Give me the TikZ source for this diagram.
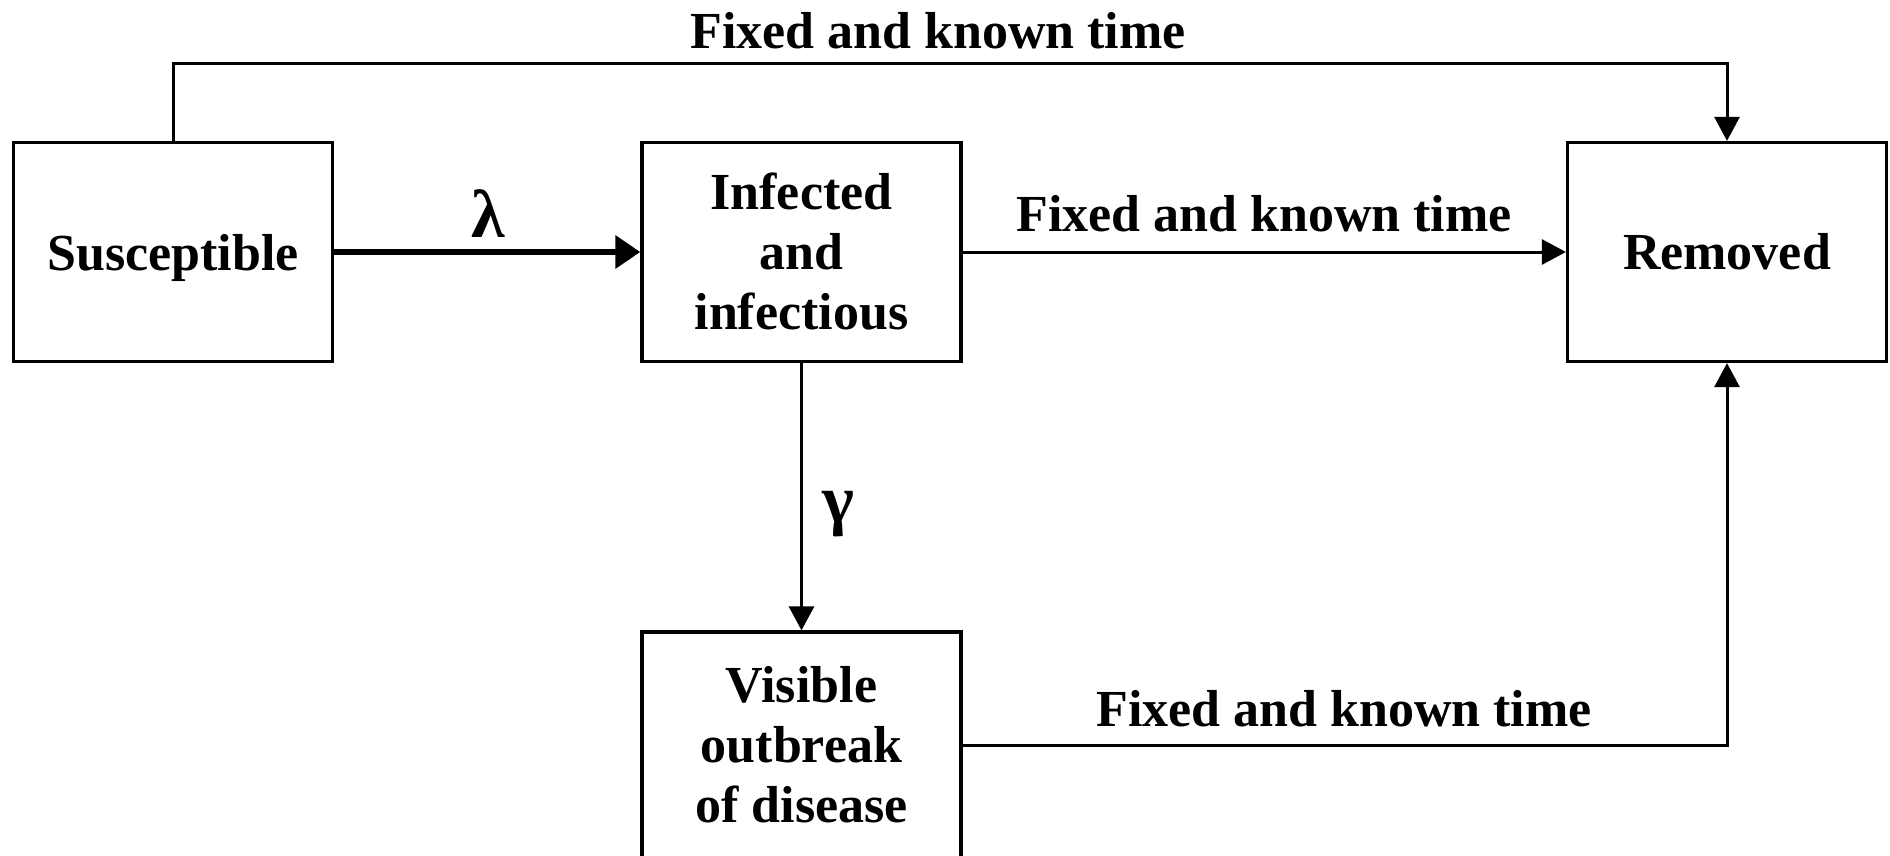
\documentclass[tikz,border=0pt]{standalone}
\usepackage{fontspec}
\setmainfont{Liberation Serif}
\usetikzlibrary{arrows.meta}
\begin{document}
\begin{tikzpicture}[x=1pt,y=-1pt,
  box/.style={draw, line width=3.3pt, minimum width=319pt, minimum height=219pt, inner sep=0pt, align=center,
    font=\fontsize{52}{60}\selectfont\bfseries},
  lbl/.style={inner sep=0pt, anchor=base, font=\fontsize{52}{60}\selectfont\bfseries},
  greek/.style={inner sep=0pt, font=\fontsize{68}{70}\selectfont\bfseries},
  conn/.style={line width=3pt, -{Triangle[length=24pt,width=25pt]}},
  thickconn/.style={line width=6.5pt, -{Triangle[length=25pt,width=32pt]}}
]
\useasboundingbox (0,0) rectangle (1890,855);
\fill[white] (0,0) rectangle (1890,855);
\node[box, text depth=0pt] (sus) at (173,252) {Susceptible};
\node[box] (inf) at (801.5,252) {Infected\\and\\infectious};
\node[box] (rem) at (1727,252) {Removed};
\node[box, minimum height=226pt] (vis) at (801.5,745) {Visible\\outbreak\\of disease};
\coordinate (tl) at (173,63);
\coordinate (tr) at (1727,63);
\coordinate (br) at (1727,745);
\draw[thickconn] (sus.east) -- (inf.west);
\draw[conn] (inf.east) -- (rem.west);
\draw[conn] (sus.north) -- (tl) -- (tr) -- (rem.north);
\draw[conn] (inf.south) -- (vis.north);
\draw[conn] (vis.east) -- (br) -- (rem.south);
\node[lbl] (ltop) at (938,48) {Fixed and known time};
\node[lbl] (lmid) at (1264,231) {Fixed and known time};
\node[lbl] (lbot) at (1344,726) {Fixed and known time};
\node[greek] (lam) at (488,214) {λ};
\node[greek] (gam) at (838,514) {γ};
\end{tikzpicture}
\end{document}
